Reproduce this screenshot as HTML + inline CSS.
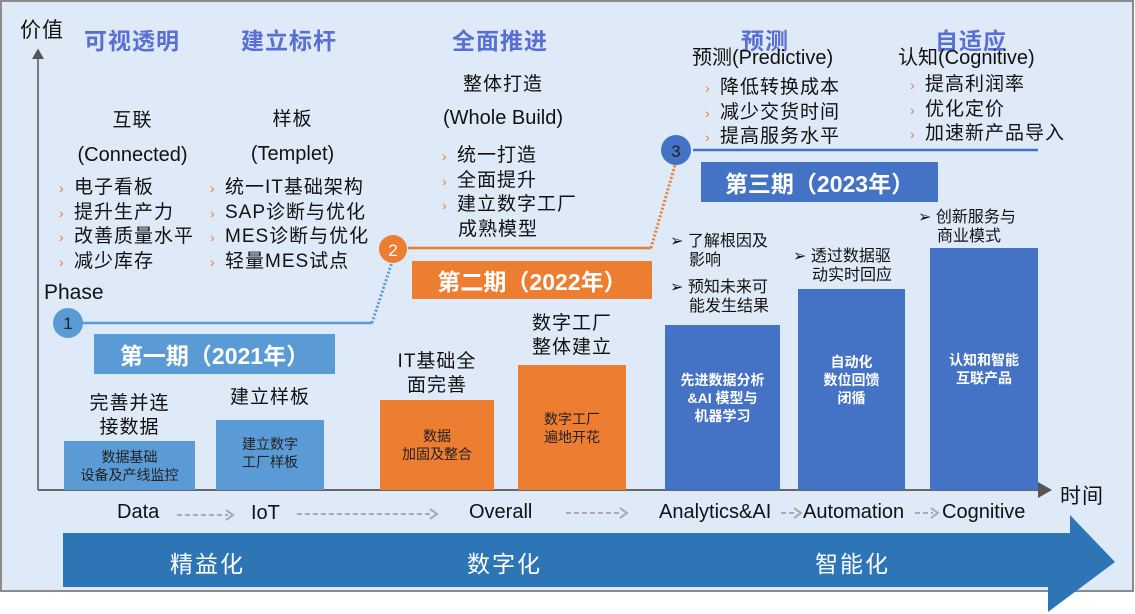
<!DOCTYPE html>
<html><head><meta charset="utf-8"><style>
*{margin:0;padding:0;box-sizing:border-box}
body{width:1135px;height:614px;background:#fff;position:relative;overflow:hidden;font-family:"Liberation Sans","Noto Sans CJK SC",sans-serif;color:#111}
#bg{position:absolute;left:0;top:0;width:1134px;height:592px;background:#deeaf7;border:2px solid #8a8a8a}
.a{position:absolute;white-space:nowrap}
.h{color:#5a6fd3;font-weight:bold;font-size:23px;letter-spacing:1px}
.t{font-size:19px;line-height:23.5px;letter-spacing:1px}
.n{letter-spacing:0}
.c{text-align:center}
.b{position:absolute;color:#fff;text-align:center;display:flex;align-items:center;justify-content:center;font-size:14px;line-height:18px}
.ch{color:#ed7d31;font-size:14px;display:inline-block;width:15px}
.ph{position:absolute;color:#fff;font-weight:bold;font-size:23px;display:flex;align-items:center;justify-content:center}
.bl{font-size:16px;line-height:18.5px}
.lb{font-size:20px}
</style></head><body>
<div id="bg"></div>
<svg style="position:absolute;left:0;top:0" width="1135" height="614">
<defs><marker id="ar" markerWidth="8" markerHeight="8" refX="6" refY="4" orient="auto"><path d="M0,0 L7,4 L0,8 z" fill="#555"/></marker></defs>
<line x1="38" y1="490" x2="38" y2="50" stroke="#555" stroke-width="1.5" marker-end="url(#ar)"/>
<line x1="38" y1="490" x2="1050" y2="490" stroke="#666" stroke-width="2" marker-end="url(#ar)"/>
<path d="M63,533 L1070,533 L1070,515 L1115,562 L1048,612 L1048,587 L63,587 Z" fill="#2e75b6"/>
<line x1="82" y1="323" x2="372" y2="323" stroke="#5b9bd5" stroke-width="2.5"/>
<line x1="372" y1="323" x2="392" y2="262" stroke="#5b9bd5" stroke-width="3" stroke-dasharray="2,2"/>
<line x1="408" y1="248" x2="651" y2="248" stroke="#ed7d31" stroke-width="2.5"/>
<line x1="651" y1="248" x2="675" y2="165" stroke="#ed7d31" stroke-width="3" stroke-dasharray="2,2"/>
<line x1="693" y1="150" x2="1038" y2="150" stroke="#4472c4" stroke-width="2.5"/>
<circle cx="68" cy="323" r="15" fill="#5b9bd5"/>
<circle cx="393" cy="249" r="14" fill="#ed7d31"/>
<circle cx="676" cy="150" r="15" fill="#4472c4"/>
<text x="68" y="329" font-size="17" text-anchor="middle" fill="#222" font-family="Liberation Sans">1</text>
<text x="393" y="256" font-size="17" text-anchor="middle" fill="#fff" font-family="Liberation Sans">2</text>
<text x="676" y="157" font-size="17" text-anchor="middle" fill="#222" font-family="Liberation Sans">3</text>
<g stroke="#aaa" stroke-width="2" stroke-dasharray="5,3" fill="none">
<line x1="177" y1="515" x2="228" y2="515"/><line x1="297" y1="514" x2="432" y2="514"/><line x1="566" y1="513" x2="622" y2="513"/>
<line x1="781" y1="513" x2="796" y2="513"/><line x1="915" y1="513" x2="933" y2="513"/></g>
<g stroke="#aaa" stroke-width="2" fill="none">
<path d="M226,510 L233,515 L226,520"/><path d="M430,509 L437,514 L430,519"/><path d="M620,508 L627,513 L620,518"/><path d="M794,508 L801,513 L794,518"/><path d="M931,508 L938,513 L931,518"/></g>
</svg>
<div class="a" style="left:20px;top:14px;font-size:21px;letter-spacing:1px">价值</div>
<div class="a" style="left:1060px;top:480px;font-size:21px;letter-spacing:1px">时间</div>
<div class="a h" style="left:84px;top:22px">可视透明</div>
<div class="a h" style="left:241px;top:22px">建立标杆</div>
<div class="a h" style="left:452px;top:22px">全面推进</div>
<div class="a h" style="left:741px;top:22px">预测</div>
<div class="a h" style="left:935px;top:22px">自适应</div>
<div class="a t c" style="left:70px;top:109px;width:125px">互联</div>
<div class="a t c n" style="left:60px;top:144px;width:145px;font-size:20px">(Connected)</div>
<div class="a t" style="left:59px;top:176px"><span class="ch">›</span>电子看板<br><span class="ch">›</span>提升生产力<br><span class="ch">›</span>改善质量水平<br><span class="ch">›</span>减少库存</div>
<div class="a t c" style="left:230px;top:108px;width:125px">样板</div>
<div class="a t c n" style="left:225px;top:143px;width:135px;font-size:20px">(Templet)</div>
<div class="a t" style="left:210px;top:176px"><span class="ch">›</span>统一IT基础架构<br><span class="ch">›</span>SAP诊断与优化<br><span class="ch">›</span>MES诊断与优化<br><span class="ch">›</span>轻量MES试点</div>
<div class="a t c" style="left:443px;top:73px;width:120px">整体打造</div>
<div class="a t c n" style="left:428px;top:107px;width:150px;font-size:20px">(Whole Build)</div>
<div class="a t" style="left:442px;top:144px"><span class="ch">›</span>统一打造<br><span class="ch">›</span>全面提升<br><span class="ch">›</span>建立数字工厂<br><span style="margin-left:16px">成熟模型</span></div>
<div class="a t n" style="left:692px;top:47px;font-size:20px">预测(Predictive)</div>
<div class="a t" style="left:705px;top:76px"><span class="ch">›</span>降低转换成本<br><span class="ch">›</span>减少交货时间<br><span class="ch">›</span>提高服务水平</div>
<div class="a t n" style="left:898px;top:47px;font-size:20px">认知(Cognitive)</div>
<div class="a t" style="left:910px;top:73px"><span class="ch">›</span>提高利润率<br><span class="ch">›</span>优化定价<br><span class="ch">›</span>加速新产品导入</div>
<div class="a" style="left:44px;top:281px;font-size:21px">Phase</div>
<div class="ph" style="left:94px;top:334px;width:241px;height:40px;background:#5b9bd5">第一期（2021年）</div>
<div class="ph" style="left:412px;top:261px;width:240px;height:38px;background:#ed7d31">第二期（2022年）</div>
<div class="ph" style="left:701px;top:162px;width:237px;height:40px;background:#4472c4">第三期（2023年）</div>
<div class="a t c" style="left:64px;top:392px;width:131px">完善并连<br>接数据</div>
<div class="a t c" style="left:210px;top:386px;width:120px">建立样板</div>
<div class="a t c" style="left:377px;top:350px;width:120px">IT基础全<br>面完善</div>
<div class="a t c" style="left:512px;top:312px;width:120px">数字工厂<br>整体建立</div>
<div class="b" style="left:64px;top:441px;width:131px;height:49px;background:#5b9bd5;color:#222">数据基础<br>设备及产线监控</div>
<div class="b" style="left:216px;top:420px;width:108px;height:70px;background:#5b9bd5;color:#222;padding-bottom:4px">建立数字<br>工厂样板</div>
<div class="b" style="left:380px;top:400px;width:114px;height:90px;background:#ed7d31;color:#222">数据<br>加固及整合</div>
<div class="b" style="left:518px;top:365px;width:108px;height:125px;background:#ed7d31;color:#222">数字工厂<br>遍地开花</div>
<div class="b" style="left:665px;top:325px;width:115px;height:165px;background:#4472c4;font-weight:bold;align-items:flex-start;padding-top:46px">先进数据分析<br>&amp;AI 模型与<br>机器学习</div>
<div class="b" style="left:798px;top:289px;width:107px;height:201px;background:#4472c4;font-weight:bold;align-items:flex-start;padding-top:64px">自动化<br>数位回馈<br>闭循</div>
<div class="b" style="left:930px;top:248px;width:108px;height:242px;background:#4472c4;font-weight:bold;align-items:flex-start;padding-top:103px">认知和智能<br>互联产品</div>
<div class="a bl" style="left:670px;top:233px">➢ 了解根因及<br><span style="margin-left:19px">影响</span></div>
<div class="a bl" style="left:670px;top:279px">➢ 预知未来可<br><span style="margin-left:19px">能发生结果</span></div>
<div class="a bl" style="left:793px;top:248px">➢ 透过数据驱<br><span style="margin-left:19px">动实时回应</span></div>
<div class="a bl" style="left:918px;top:209px">➢ 创新服务与<br><span style="margin-left:19px">商业模式</span></div>
<div class="a lb" style="left:117px;top:501px">Data</div>
<div class="a lb" style="left:251px;top:502px">IoT</div>
<div class="a lb" style="left:469px;top:501px">Overall</div>
<div class="a lb" style="left:659px;top:501px">Analytics&amp;AI</div>
<div class="a lb" style="left:803px;top:501px">Automation</div>
<div class="a lb" style="left:942px;top:501px">Cognitive</div>
<div class="a" style="left:170px;top:545px;font-size:23px;letter-spacing:2px;color:#fff">精益化</div>
<div class="a" style="left:467px;top:545px;font-size:23px;letter-spacing:2px;color:#fff">数字化</div>
<div class="a" style="left:815px;top:545px;font-size:23px;letter-spacing:2px;color:#fff">智能化</div>
</body></html>
